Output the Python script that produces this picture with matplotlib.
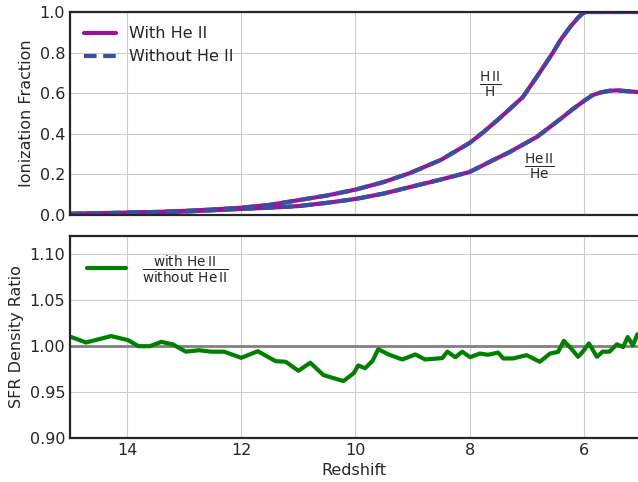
import numpy as np
import matplotlib
matplotlib.use('Agg')
import matplotlib.pyplot as plt
import seaborn as sns

# ionization fractions vs redshift
z_ion = [15.0, 14.0, 13.5, 13.0, 12.5, 12.0, 11.5, 11.0, 10.5, 10.0, 9.5, 9.04, 8.5, 8.0,
         7.75, 7.47, 7.07, 6.8, 6.54, 6.4, 6.24, 6.1, 6.02, 5.97, 5.5, 5.05]
x_hii = [0.006, 0.012, 0.015, 0.02, 0.027, 0.036, 0.05, 0.073, 0.096, 0.125, 0.163, 0.207, 0.272, 0.355,
         0.41, 0.478, 0.58, 0.69, 0.80, 0.865, 0.926, 0.972, 0.993, 1.0, 1.0, 1.0]
z_he = [15.0, 14.0, 13.0, 12.0, 11.5, 11.0, 10.5, 10.0, 9.5, 9.04, 8.5, 8.0, 7.59, 7.3,
        6.82, 6.4, 6.2, 6.02, 5.85, 5.7, 5.55, 5.42, 5.06]
x_heii = [0.005, 0.01, 0.017, 0.03, 0.036, 0.044, 0.06, 0.079, 0.106, 0.138, 0.175, 0.212, 0.27, 0.31,
          0.385, 0.475, 0.52, 0.557, 0.59, 0.604, 0.612, 0.614, 0.606]

# SFR density ratio (with / without He II)
z_sfr = [14.98, 14.72, 14.28, 13.98, 13.8, 13.6, 13.4, 13.2, 12.97, 12.74, 12.53, 12.3,
         12.0, 11.71, 11.4, 11.22, 11.0, 10.79, 10.56, 10.21, 10.03, 9.95, 9.83, 9.7,
         9.6, 9.42, 9.18, 8.95, 8.78, 8.48, 8.39, 8.25, 8.13, 7.99, 7.82, 7.68, 7.5,
         7.41, 7.24, 7.0, 6.77, 6.59, 6.45, 6.35, 6.21, 6.1, 6.02, 5.91, 5.77, 5.67,
         5.55, 5.42, 5.31, 5.23, 5.14, 5.06]
ratio = [1.010, 1.004, 1.011, 1.0065, 1.000, 1.000, 1.0047, 1.002, 0.994, 0.9956, 0.994, 0.994,
         0.9873, 0.9945, 0.9837, 0.983, 0.9732, 0.982, 0.9685, 0.962, 0.9706, 0.979, 0.976, 0.984,
         0.9967, 0.991, 0.9855, 0.991, 0.9855, 0.987, 0.994, 0.988, 0.994, 0.988, 0.992, 0.9906, 0.993,
         0.9866, 0.9866, 0.9902, 0.983, 0.992, 0.9938, 1.0058, 0.9967, 0.9884, 0.9938, 1.003, 0.9884, 0.994,
         0.994, 1.002, 0.999, 1.010, 1.001, 1.013]

sns.set_style('whitegrid', {'axes.edgecolor': '.15', 'grid.color': '.8'})
plt.rcParams['font.family'] = ['DejaVu Sans']
plt.rcParams['axes.linewidth'] = 1.6

fig = plt.figure(figsize=(6.38, 4.82), dpi=100)
ax1 = fig.add_axes([0.1097, 0.5539, 0.8903, 0.4212])
ax2 = fig.add_axes([0.1097, 0.0913, 0.8903, 0.4191])

c_with = '#9b139b'
c_without = '#3a4f9f'

ax1.plot(z_ion, x_hii, color=c_with, lw=3, label='With He II')
ax1.plot(z_ion, x_hii, color=c_without, lw=3, ls='--', dashes=(3, 1.6), label='Without He II')
ax1.plot(z_he, x_heii, color=c_with, lw=3)
ax1.plot(z_he, x_heii, color=c_without, lw=3, ls='--', dashes=(3, 1.6))
ax1.text(7.64, 0.64, r'$\frac{\mathrm{H\,II}}{\mathrm{H}}$', fontsize=14, ha='center', va='center', color='.15')
ax1.text(6.77, 0.235, r'$\frac{\mathrm{He\,II}}{\mathrm{He}}$', fontsize=14, ha='center', va='center', color='.15')
ax1.set_xlim(15, 5.05)
ax1.set_ylim(0, 1)
ax1.set_yticks([0, 0.2, 0.4, 0.6, 0.8, 1.0])
ax1.set_xticks([14, 12, 10, 8, 6])
ax1.set_xticklabels([])
ax1.set_ylabel('Ionization Fraction', fontsize=11.5, color='.15')
ax1.legend(loc='upper left', frameon=False, fontsize=11.5, handlelength=2.0)

ax2.axhline(1.0, color='gray', lw=2)
ax2.plot(z_sfr, ratio, color='green', lw=3,
         label=r'$\frac{\mathrm{with\ He\,II}}{\mathrm{without\ He\,II}}$')
ax2.set_xlim(15, 5.05)
ax2.set_ylim(0.90, 1.12)
ax2.set_yticks([0.90, 0.95, 1.00, 1.05, 1.10])
ax2.set_xticks([14, 12, 10, 8, 6])
ax2.set_ylabel('SFR Density Ratio', fontsize=11.5, color='.15')
ax2.set_xlabel('Redshift', fontsize=11.5, color='.15')
ax2.legend(loc='upper left', frameon=False, fontsize=14, handlelength=2.0)

for ax in (ax1, ax2):
    ax.tick_params(labelsize=11.5, colors='.15', length=0)
    ax.spines['right'].set_visible(False)

fig.savefig('out.png', dpi=100)
